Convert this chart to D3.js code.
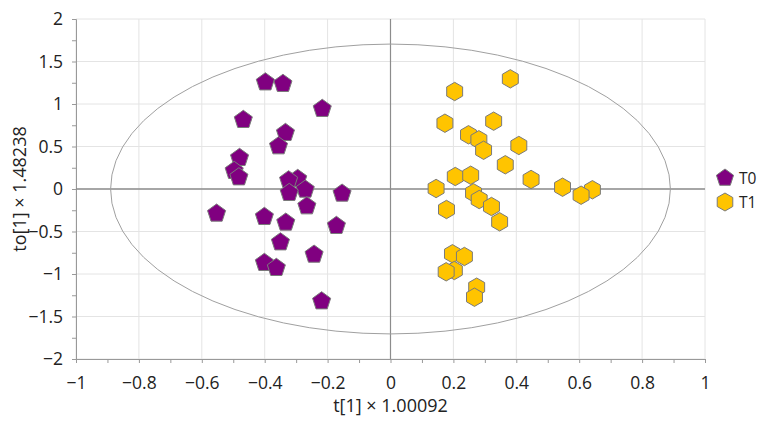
<!DOCTYPE html>
<html>
<head>
<meta charset="utf-8">
<script src="https://cdn.jsdelivr.net/npm/d3@7"></script>
<style>
  body { margin: 0; background: #fff; }
  text { font-family: "Open Sans", "Noto Sans", sans-serif; }
</style>
</head>
<body>
<div id="chart"></div>
<script>
// group T0 scores (t[1], to[1])
var t0X = [-0.398, -0.342, -0.217, -0.468, -0.334, -0.356, -0.480, -0.497, -0.482, -0.295, -0.324, -0.271,
           -0.322, -0.154, -0.266, -0.553, -0.401, -0.333, -0.172, -0.350, -0.243, -0.401, -0.363, -0.219]
var t0Y = [1.256, 1.238, 0.944, 0.814, 0.661, 0.504, 0.367, 0.214, 0.139, 0.120, 0.104, -0.006,
           -0.045, -0.053, -0.202, -0.288, -0.327, -0.394, -0.433, -0.626, -0.771, -0.868, -0.927, -1.320]
// group T1 scores
var t1X = [0.381, 0.204, 0.173, 0.328, 0.248, 0.281, 0.296, 0.408, 0.365, 0.206, 0.255, 0.447, 0.145, 0.547,
           0.642, 0.606, 0.264, 0.282, 0.321, 0.178, 0.347, 0.197, 0.235, 0.203, 0.177, 0.274, 0.267]
var t1Y = [1.296, 1.147, 0.774, 0.798, 0.638, 0.579, 0.456, 0.512, 0.285, 0.147, 0.162, 0.112, 0.006, 0.021,
           -0.009, -0.073, -0.045, -0.124, -0.206, -0.241, -0.386, -0.762, -0.794, -0.959, -0.974, -1.155, -1.273]
var xTicks = [-1, -0.8, -0.6, -0.4, -0.2, 0, 0.2, 0.4, 0.6, 0.8, 1]
var yTicks = [-2, -1.5, -1, -0.5, 0, 0.5, 1, 1.5, 2]
var ellipseRx = 0.89, ellipseRy = 1.705
var groupNames = ["T0", "T1"]

var W = 767, H = 428
var margin = { top: 19, right: 62, bottom: 69, left: 76 },
    width = W - margin.left - margin.right,
    height = H - margin.top - margin.bottom

var svg = d3.select("#chart").append("svg")
    .attr("width", W).attr("height", H)
var g = svg.append("g")
    .attr("transform", "translate(" + margin.left + "," + margin.top + ")")

var x = d3.scaleLinear().domain([-1, 1]).range([0, width])
var y = d3.scaleLinear().domain([-2, 2]).range([height, 0])

// grid
g.selectAll(".gx").data(xTicks).enter().append("line")
    .attr("x1", d => x(d)).attr("x2", d => x(d))
    .attr("y1", 0).attr("y2", height)
    .attr("stroke", "#e4e4e4")
g.selectAll(".gy").data(yTicks).enter().append("line")
    .attr("y1", d => y(d)).attr("y2", d => y(d))
    .attr("x1", 0).attr("x2", width)
    .attr("stroke", "#e4e4e4")

// axes
var fmt = d => d3.format("")(d).replace("-", "\u2212")
var xAxis = g.append("g").attr("transform", "translate(0," + height + ")")
    .call(d3.axisBottom(x).tickValues(d3.range(-10, 11).map(d => d / 10)).tickSize(4)
        .tickFormat(d => xTicks.some(t => Math.abs(t - d) < 1e-9) ? fmt(d) : ""))
var yAxis = g.append("g")
    .call(d3.axisLeft(y).tickValues(d3.range(-8, 9).map(d => d / 4)).tickSize(4)
        .tickFormat(d => yTicks.some(t => Math.abs(t - d) < 1e-9) ? fmt(d) : ""))
;[xAxis, yAxis].forEach(a => {
    a.attr("font-size", 17.5).attr("font-family", "'Open Sans', sans-serif")
    a.select(".domain").attr("stroke", "#999")
    a.selectAll(".tick line").attr("stroke", "#999")
    a.selectAll(".tick text").attr("fill", "#222")
})
xAxis.selectAll(".tick text").attr("dy", null).attr("y", 30)
yAxis.selectAll(".tick text").attr("x", -13)

// zero lines
g.append("line").attr("x1", 0).attr("x2", width).attr("y1", y(0)).attr("y2", y(0))
    .attr("stroke", "#8c8c8c").attr("stroke-width", 1.5)
g.append("line").attr("x1", x(0)).attr("x2", x(0)).attr("y1", 0).attr("y2", height)
    .attr("stroke", "#8c8c8c").attr("stroke-width", 1.2)

// confidence ellipse
g.append("ellipse")
    .attr("cx", x(0)).attr("cy", y(0))
    .attr("rx", x(ellipseRx) - x(0)).attr("ry", y(0) - y(ellipseRy))
    .attr("fill", "none").attr("stroke", "#a0a0a0").attr("stroke-width", 1)

function polygon(n, r, rot) {
    var pts = d3.range(n).map(i => {
        var a = rot + i * 2 * Math.PI / n
        return [r * Math.sin(a), -r * Math.cos(a)]
    })
    return "M" + pts.map(p => p[0].toFixed(2) + "," + p[1].toFixed(2)).join("L") + "Z"
}
var pentagon = polygon(5, 9.5, 0)
var hexagon = polygon(6, 9.2, 0)

var t0 = t0X.map((d, i) => ({ x: d, y: t0Y[i] }))
var t1 = t1X.map((d, i) => ({ x: d, y: t1Y[i] }))

g.selectAll(".p0").data(t0).enter().append("path")
    .attr("d", pentagon)
    .attr("transform", d => "translate(" + x(d.x) + "," + y(d.y) + ")")
    .attr("fill", "#800080").attr("stroke", "#7a7a7a").attr("stroke-width", 1)
g.selectAll(".p1").data(t1).enter().append("path")
    .attr("d", hexagon)
    .attr("transform", d => "translate(" + x(d.x) + "," + y(d.y) + ")")
    .attr("fill", "#ffc400").attr("stroke", "#7a7a7a").attr("stroke-width", 1)

// axis titles
svg.append("text")
    .attr("x", margin.left + x(0)).attr("y", 412)
    .attr("text-anchor", "middle").style("font-size", "18px").attr("fill", "#222")
    .text("t[1] \u00d7 1.00092")
svg.append("text")
    .attr("transform", "translate(26," + (margin.top + y(0)) + ") rotate(-90)")
    .attr("text-anchor", "middle").style("font-size", "18px").attr("fill", "#222")
    .text("to[1] \u00d7 1.48238")

// legend
var legend = svg.append("g").attr("transform", "translate(725,178)")
groupNames.forEach((name, i) => {
    var row = legend.append("g").attr("transform", "translate(0," + i * 24 + ")")
    row.append("path").attr("d", i == 0 ? polygon(5, 9, 0) : polygon(6, 9, 0))
        .attr("fill", i == 0 ? "#800080" : "#ffc400").attr("stroke", "#7a7a7a")
    row.append("text").attr("x", 14).attr("y", 5.5).style("font-size", "15.5px")
        .attr("fill", "#222").text(name)
})
</script>
</body>
</html>
